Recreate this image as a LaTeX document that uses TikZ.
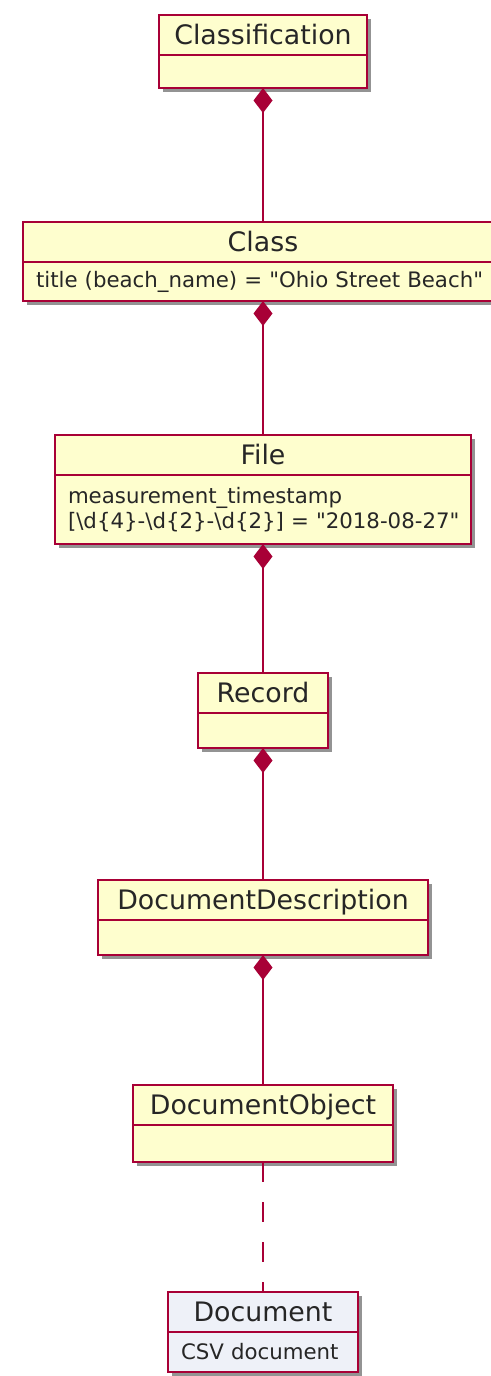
\documentclass[tikz,border=0pt]{standalone}
\usepackage{fontspec}
\setmainfont{DejaVu Sans}[Ligatures=TeXOff]
\usetikzlibrary{positioning,shadows}
\usetikzlibrary{arrows.meta}

\definecolor{umlred}{HTML}{A80036}
\definecolor{umlfill}{HTML}{FEFECE}
\definecolor{docfill}{HTML}{EEF1F8}

\begin{document}
\begin{tikzpicture}[x=1pt,y=1pt,
  umlbox/.style={draw=umlred, line width=2pt, fill=umlfill, outer sep=0pt,
    drop shadow={shadow xshift=4pt, shadow yshift=-4pt, fill=black!60, opacity=.7}},
  umlhead/.style={umlbox, inner sep=0pt, minimum height=40pt, text height=19.6pt, text depth=0pt,
    text=black!85, font=\fontsize{26.8}{30}\selectfont},
  umlattr/.style={umlbox, inner xsep=13pt, inner ysep=0pt, align=left,
    text=black!85, font=\fontsize{21.3}{25}\selectfont},
  umlline/.style={draw=umlred, line width=2pt},
  owns/.style={umlline, {Diamond[length=25pt, width=19pt]}-}]
\useasboundingbox[fill=white] (0,0) rectangle (490,-1376);

% classes, top to bottom
\node[umlhead, minimum width=208pt] (classification) at (263,-35) {Classification};
\node[umlattr, text width=182pt, minimum height=33pt, below=0pt of classification] (classification-a) {};

\node[umlhead, minimum width=480pt] (class) at (263,-242) {Class};
\node[umlattr, text width=454pt, minimum height=39pt, below=0pt of class] (class-a)
  {\mbox{title (beach\_name) = "Ohio Street Beach"}};

\node[umlhead, minimum width=416pt] (file) at (263,-455) {File};
\node[umlattr, text width=390pt, minimum height=69pt, below=0pt of file] (file-a)
  {measurement\_timestamp\\ \mbox{[\textbackslash d\{4\}-\textbackslash d\{2\}-\textbackslash d\{2\}] = "2018-08-27"}};

\node[umlhead, minimum width=130pt] (record) at (263,-693) {Record};
\node[umlattr, text width=104pt, minimum height=35pt, below=0pt of record] (record-a) {};

\node[umlhead, minimum width=330pt] (docdesc) at (263,-900) {DocumentDescription};
\node[umlattr, text width=304pt, minimum height=35pt, below=0pt of docdesc] (docdesc-a) {};

\node[umlhead, minimum width=260pt] (docobject) at (263,-1105) {DocumentObject};
\node[umlattr, text width=234pt, minimum height=37pt, below=0pt of docobject] (docobject-a) {};

\node[umlhead, minimum width=190pt, fill=docfill] (document) at (263,-1312) {Document};
\node[umlattr, text width=164pt, minimum height=40pt, fill=docfill, below=0pt of document] (document-a)
  {CSV document};

% composition links
\draw[owns] (classification-a) -- (class);
\draw[owns] (class-a) -- (file);
\draw[owns] (file-a) -- (record);
\draw[owns] (record-a) -- (docdesc);
\draw[owns] (docdesc-a) -- (docobject);
\draw[umlline, dash pattern=on 20pt off 20pt] (docobject-a) -- (document);
\end{tikzpicture}
\end{document}
